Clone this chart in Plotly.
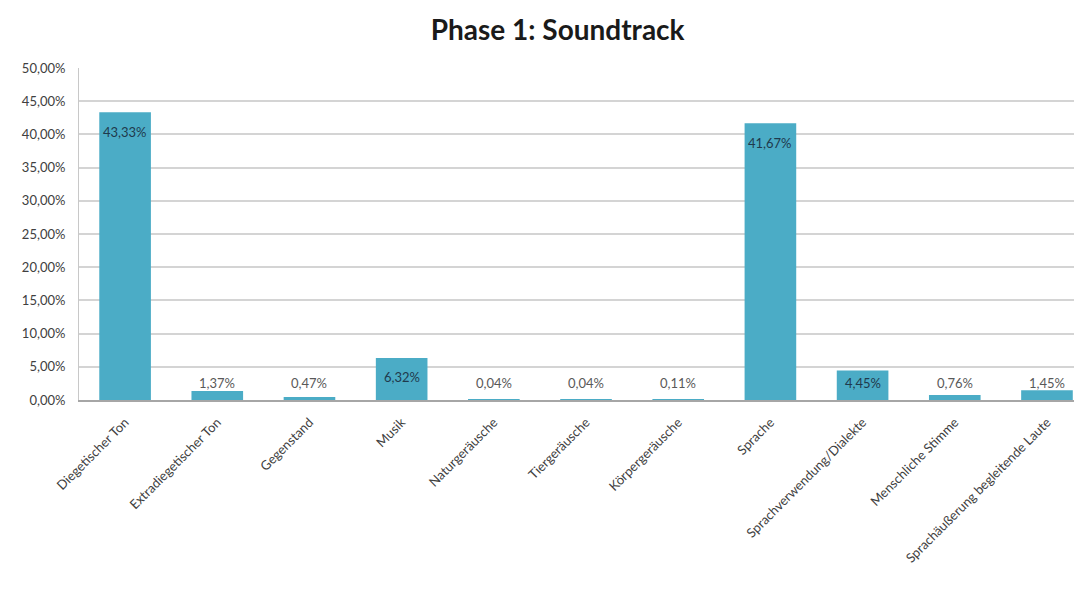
import plotly.graph_objects as go

categories = ["Diegetischer Ton", "Extradiegetischer Ton", "Gegenstand", "Musik",
              "Naturgeräusche", "Tiergeräusche", "Körpergeräusche", "Sprache",
              "Sprachverwendung/Dialekte", "Menschliche Stimme",
              "Sprachäußerung begleitende Laute"]
values = [43.33, 1.37, 0.47, 6.32, 0.04, 0.04, 0.11, 41.67, 4.45, 0.76, 1.45]
labels = ["43,33%", "1,37%", "0,47%", "6,32%", "0,04%", "0,04%", "0,11%",
          "41,67%", "4,45%", "0,76%", "1,45%"]
tick_vals = [0, 5, 10, 15, 20, 25, 30, 35, 40, 45, 50]
tick_text = ["0,00%", "5,00%", "10,00%", "15,00%", "20,00%", "25,00%",
             "30,00%", "35,00%", "40,00%", "45,00%", "50,00%"]

fig = go.Figure()
fig.add_trace(go.Bar(x=list(range(len(categories))), y=values,
                     marker=dict(color="#4BACC6", line=dict(width=0)),
                     width=0.56, hoverinfo="skip"))

for i, (v, t) in enumerate(zip(values, labels)):
    inside = v > 3.5
    fig.add_annotation(x=i, y=max(v - 2.9, 2.6), text=t, showarrow=False,
                       xref="x", yref="y", yanchor="middle",
                       font=dict(family="Lato", size=13,
                                 color="#1F3A4D" if inside else "#595959"))

fig.update_layout(
    width=1082, height=589,
    margin=dict(l=71, r=8, t=60, b=197, autoexpand=False),
    paper_bgcolor="white", plot_bgcolor="white",
    showlegend=False,
    title=dict(text="<b>Phase 1: Soundtrack</b>", x=0.508, xanchor="center",
               y=1 - 22 / 589, yanchor="middle",
               font=dict(family="Lato", size=28, color="#1a1a1a")),
    xaxis=dict(range=[-0.5, 10.38], tickmode="array",
               tickvals=list(range(len(categories))), ticktext=categories,
               tickangle=-45, showgrid=False, showline=True,
               linecolor="#A6A6A6", linewidth=1.5, ticks="",
               ticklabelstandoff=8,
               tickfont=dict(family="Lato", size=13, color="#404040")),
    yaxis=dict(range=[0, 50], tickmode="array", tickvals=tick_vals,
               ticktext=tick_text, showgrid=True,
               gridcolor="#D4D4D4", gridwidth=2, showline=True,
               linecolor="#C8C8C8", linewidth=1, zeroline=False, ticks="",
               ticklabelstandoff=10,
               tickfont=dict(family="Lato", size=13, color="#404040")),
)

fig.write_html("out.html")
